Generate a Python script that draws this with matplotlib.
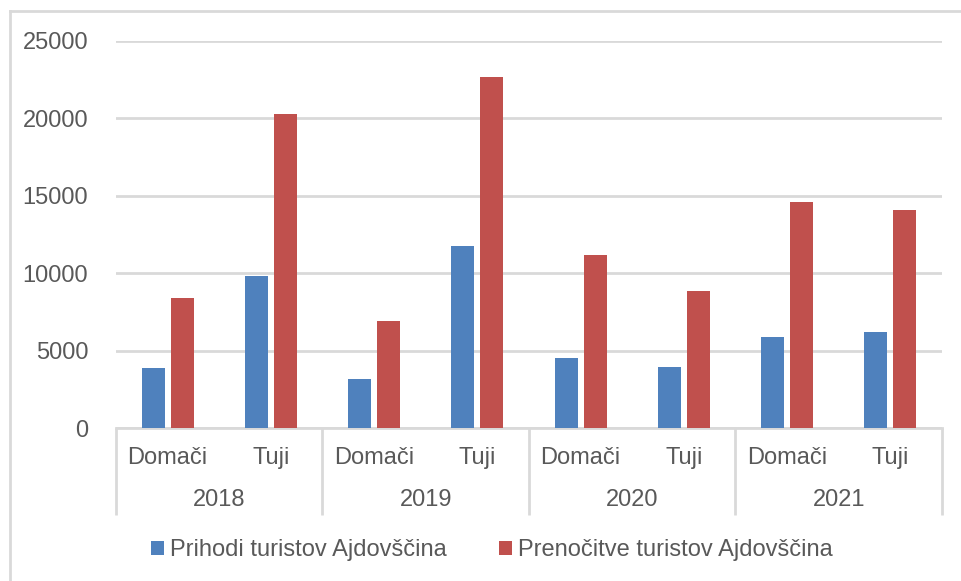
import numpy as np
import matplotlib
matplotlib.use('Agg')
import matplotlib.pyplot as plt
from matplotlib.lines import Line2D

plt.rcParams['font.family'] = ['Liberation Sans', 'DejaVu Sans']

years = ['2018', '2019', '2020', '2021']
groups = ['Domači', 'Tuji']
categories = [g for y in years for g in groups]
prihodi = [3870, 9850, 3160, 11740, 4560, 3970, 5870, 6190]
prenocitve = [8430, 20280, 6940, 22680, 11160, 8840, 14580, 14060]
series_names = ['Prihodi turistov Ajdovščina', 'Prenočitve turistov Ajdovščina']

blue = '#4F81BD'
red = '#C0504D'
grey_txt = '#595959'
grey_line = '#D9D9D9'
fs = 17
lw = 2.0

fig = plt.figure(figsize=(9.62, 5.81), dpi=100)
ax = fig.add_axes([116/962, 1 - 428.3/581, (942 - 116)/962, (428.3 - 40.7)/581])

x = np.arange(len(categories))
w = 0.223
off = 0.14
b1 = ax.bar(x - off, prihodi, w, color=blue, zorder=3, label=series_names[0])
b2 = ax.bar(x + off, prenocitve, w, color=red, zorder=3, label=series_names[1])

ax.set_xlim(-0.5, len(categories) - 0.5)
ax.set_ylim(0, 25000)
ax.set_yticks(np.arange(0, 25001, 5000))
ax.yaxis.grid(True, color=grey_line, linewidth=lw, zorder=0)
ax.tick_params(axis='y', length=0, pad=20, labelsize=fs, labelcolor=grey_txt)
ax.set_xticks([])
for s in ['left', 'right', 'top']:
    ax.spines[s].set_visible(False)
ax.spines['bottom'].set_color(grey_line)
ax.spines['bottom'].set_linewidth(lw)

# two-level category axis
trans = ax.get_xaxis_transform()
for i, lab in enumerate(categories):
    ax.text(i, -0.0766, lab, transform=trans, ha='center', va='center',
            fontsize=fs, color=grey_txt)
for j, yr in enumerate(years):
    ax.text(2*j + 0.5, -0.185, yr, transform=trans, ha='center', va='center',
            fontsize=fs, color=grey_txt)
for xb in np.arange(-0.5, len(categories), 2):
    ax.plot([xb, xb], [0, -(515 - 428.3)/387.6], transform=trans, color=grey_line,
            linewidth=lw, clip_on=False, solid_capstyle='butt')

# legend
leg = fig.legend(handles=[b1, b2], loc='center', bbox_to_anchor=(492/962, 1 - 550/581),
                 ncol=2, frameon=False, fontsize=fs, handlelength=0.55, handleheight=0.55,
                 handletextpad=0.25, columnspacing=2.2, borderaxespad=0)
for t in leg.get_texts():
    t.set_color(grey_txt)

# chart border (top and left visible)
fig.add_artist(Line2D([10/962, 1], [1 - 11/581, 1 - 11/581], color=grey_line, linewidth=lw))
fig.add_artist(Line2D([10/962, 10/962], [0, 1 - 11/581], color=grey_line, linewidth=lw))

fig.savefig('out.png', dpi=100)
